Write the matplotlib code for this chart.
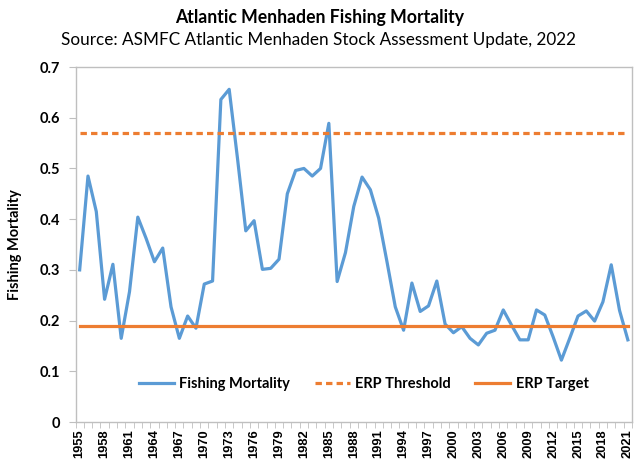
import matplotlib
matplotlib.use("Agg")
import matplotlib.pyplot as plt
import numpy as np

years = list(range(1955, 2022))
fishing_mortality = [
    0.300, 0.485, 0.415, 0.242, 0.311, 0.165, 0.257, 0.404, 0.362, 0.316,
    0.343, 0.227, 0.165, 0.209, 0.185, 0.272, 0.278, 0.636, 0.656, 0.520,
    0.377, 0.397, 0.301, 0.303, 0.321, 0.450, 0.496, 0.500, 0.485, 0.500,
    0.589, 0.277, 0.334, 0.425, 0.483, 0.458, 0.402, 0.316, 0.227, 0.181,
    0.274, 0.218, 0.229, 0.278, 0.193, 0.176, 0.188, 0.165, 0.152, 0.175,
    0.181, 0.221, 0.191, 0.162, 0.162, 0.221, 0.211, 0.168, 0.122, 0.165,
    0.209, 0.219, 0.199, 0.237, 0.310, 0.220, 0.162,
]
erp_threshold = 0.57
erp_target = 0.19
yticks = [0, 0.1, 0.2, 0.3, 0.4, 0.5, 0.6, 0.7]
ytick_labels = ["0", "0.1", "0.2", "0.3", "0.4", "0.5", "0.6", "0.7"]

BLUE = "#5B9BD5"
ORANGE = "#ED7D31"
FONT = ["Lato", "DejaVu Sans"]

fig = plt.figure(figsize=(6.4, 4.74), dpi=100)
ax = fig.add_axes([0.118, 0.1097, 0.8695, 0.7489])

x = np.arange(len(years))
ax.plot(x, fishing_mortality, color=BLUE, lw=2.3, label="Fishing Mortality", solid_joinstyle="round")
ax.plot(x, [erp_threshold] * len(x), color=ORANGE, lw=2.3, ls=(0, (2.0, 1.3)), label="ERP Threshold")
ax.plot(x, [erp_target] * len(x), color=ORANGE, lw=2.3, label="ERP Target")

ax.set_xlim(-0.5, len(years) - 0.5)
ax.set_ylim(0, 0.7)
ax.set_yticks(yticks)
ax.set_yticklabels(ytick_labels, fontfamily=FONT, fontweight="bold", fontsize=10.5)

major = [i for i in range(0, len(years), 3)]
ax.set_xticks(major)
ax.set_xticklabels([str(years[i]) for i in major], rotation=90, fontfamily=["Liberation Sans", "DejaVu Sans"],
                   fontweight="bold", fontsize=9.3)
ax.set_xticks(np.arange(len(years) + 1) - 0.5, minor=True)
ax.tick_params(axis="x", which="major", length=0, pad=5)
ax.tick_params(axis="x", which="minor", length=4, color="#BFBFBF", direction="out")
ax.tick_params(axis="y", length=5, color="#BFBFBF", direction="out", pad=6)

for s in ax.spines.values():
    s.set_color("#BFBFBF")
    s.set_linewidth(1.0)

ax.set_ylabel("Fishing Mortality", fontfamily=FONT, fontweight="bold", fontsize=10.5, labelpad=13)

fig.text(0.5, 0.963, "Atlantic Menhaden Fishing Mortality", ha="center", va="center",
         fontfamily=FONT, fontweight="bold", fontsize=12.7)
fig.text(0.497, 0.915, "Source: ASMFC Atlantic Menhaden Stock Assessment Update, 2022", ha="center", va="center",
         fontfamily=FONT, fontsize=12.3)

leg = ax.legend(loc="center", bbox_to_anchor=(0.518, 0.108), ncol=3, frameon=False,
                prop={"family": FONT, "weight": "bold", "size": 10.5}, handlelength=2.4,
                columnspacing=1.7, handletextpad=0.35)

fig.savefig("out.png", dpi=100)
